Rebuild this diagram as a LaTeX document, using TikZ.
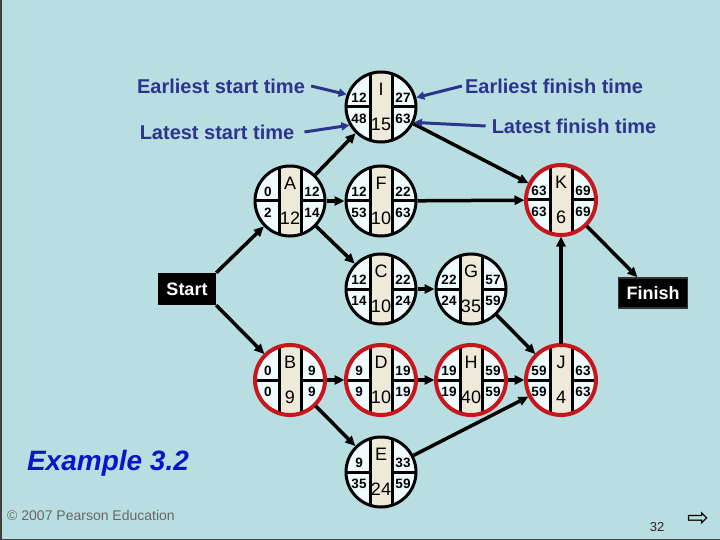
\documentclass[tikz,border=0pt]{standalone}
\usepackage{fontspec}
\setmainfont{Liberation Sans}
\newfontfamily\symfont{DejaVu Sans}
\usetikzlibrary{arrows.meta}

\definecolor{slidebg}{RGB}{185,222,226}
\definecolor{quadfill}{RGB}{240,251,253}
\definecolor{beige}{RGB}{238,234,218}
\definecolor{critred}{RGB}{200,22,29}
\definecolor{navy}{RGB}{44,52,140}
\definecolor{exblue}{RGB}{10,20,200}

% one activity: [rim style]{name}{position}{letter}{duration}{ES}{EF}{LS}{LF}
\newcommand{\activity}[9][rim]{%
  \node[actnode] (#2) at (#3) {};
  \begin{scope}[shift={(#3)}]
    \begin{scope}
      \clip (0,0) circle (35pt);
      \fill[beige] (-11,-36) rectangle (11,36);
      \draw[divide] (-11,-36) -- (-11,36) (11,-36) -- (11,36)
                    (-36,0) -- (-11,0) (11,0) -- (36,0);
    \end{scope}
    \draw[#1] (0,0) circle (35pt);
    \node[letter] at (0,-18) {#4};
    \node[letter] at (0,17) {#5};
    \node[num] at (-22,-9) {#6};
    \node[num] at (22,-9) {#7};
    \node[num] at (-22,12) {#8};
    \node[num] at (22,12) {#9};
  \end{scope}
}

\begin{document}
\begin{tikzpicture}[x=1pt, y=-1pt,
    actnode/.style={circle, fill=quadfill, minimum size=70pt, inner sep=0pt, outer sep=1.5pt},
    divide/.style={line width=3pt},
    rim/.style={draw=black, line width=3pt},
    critrim/.style={draw=critred, line width=4pt},
    letter/.style={inner sep=0pt, font=\fontsize{18}{18}\selectfont},
    num/.style={inner sep=0pt, font=\fontsize{13.5}{13.5}\selectfont\bfseries},
    note/.style={inner sep=0pt, text=navy, font=\fontsize{20}{20}\selectfont\bfseries},
    pointer/.style={draw=navy, line width=3pt, -{Triangle[length=8pt,width=8pt]}},
    link/.style={draw=black, line width=3.5pt, -{Triangle[length=10pt,width=9pt]}},
    endbox/.style={fill=black, text=white, inner sep=0pt, font=\fontsize{18}{18}\selectfont\bfseries}]
    \useasboundingbox (0,0) rectangle (720,540);
    \fill[slidebg] (0,0) rectangle (720,540);
    \draw[black!75, line width=1.5pt] (0.75,0) -- (0.75,539.25) -- (720,539.25);

    % Draw nodes
    \node[endbox, minimum width=58pt, minimum height=32pt] (start) at (187,289) {Start};
    \node[endbox, draw=black!80, line width=1.5pt, minimum width=69pt, minimum height=30pt] (finish) at (653,293) {Finish};

    \activity{I}{381,107}{I}{15}{12}{27}{48}{63}
    \activity{A}{290,201}{A}{12}{0}{12}{2}{14}
    \activity{F}{381,201}{F}{10}{12}{22}{53}{63}
    \activity[critrim]{K}{561,200}{K}{6}{63}{69}{63}{69}
    \activity{C}{381,289}{C}{10}{12}{22}{14}{24}
    \activity{G}{471,289}{G}{35}{22}{57}{24}{59}
    \activity[critrim]{B}{290,380}{B}{9}{0}{9}{0}{9}
    \activity[critrim]{D}{381,380}{D}{10}{9}{19}{9}{19}
    \activity[critrim]{H}{471,380}{H}{40}{19}{59}{19}{59}
    \activity[critrim]{J}{561,380}{J}{4}{59}{63}{59}{63}
    \activity{E}{381,472}{E}{24}{9}{33}{35}{59}

    % Draw connections
    \draw[link] (start.north east) -- (A);
    \draw[link] (start.south east) -- (B);
    \draw[link] (A) -- (I);
    \draw[link] (A) -- (F);
    \draw[link] (A) -- (C);
    \draw[link] (I) -- (K);
    \draw[link] (F) -- (K);
    \draw[link] (C) -- (G);
    \draw[link] (G) -- (J);
    \draw[link] (K) -- (finish);
    \draw[link] (J) -- (K);
    \draw[link] (B) -- (D);
    \draw[link] (D) -- (H);
    \draw[link] (H) -- (J);
    \draw[link] (B) -- (E);
    \draw[link] (E) -- (J);

    % Labels
    \node[note] (es) at (221,86) {Earliest start time};
    \node[note] (ls) at (217,132) {Latest start time};
    \node[note] (ef) at (554,86) {Earliest finish time};
    \node[note] (lf) at (574,126) {Latest finish time};
    \draw[pointer] ([xshift=6pt]es.east) -- (I.160);
    \draw[pointer] ([xshift=10pt]ls.east) -- (I.210);
    \draw[pointer] ([xshift=-3pt]ef.west) -- (I.15);
    \draw[pointer] ([xshift=-6pt]lf.west) -- (I.335);

    \node[inner sep=0pt, text=exblue, font=\fontsize{28}{28}\selectfont\bfseries\itshape] (example) at (108,463) {Example 3.2};
    \node[inner sep=0pt, text=black!60, font=\fontsize{14}{14}\selectfont] (credit) at (91,515) {© 2007 Pearson Education};
    \node[inner sep=0pt, text=black!85, font=\fontsize{13}{13}\selectfont] (pageno) at (657,527) {32};
    \node[inner sep=0pt, font=\fontsize{26}{26}\selectfont\symfont] (nextmark) at (698,519) {⇨};
\end{tikzpicture}
\end{document}
